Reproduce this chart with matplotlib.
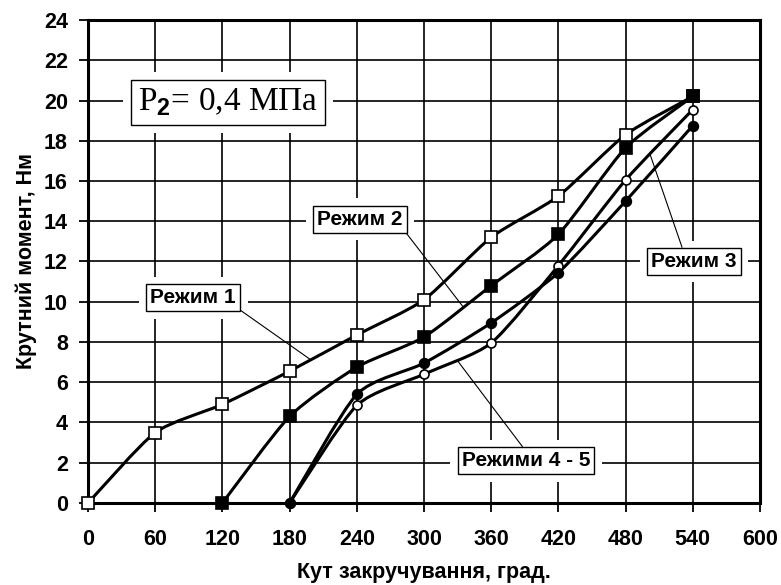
import numpy as np
import matplotlib
matplotlib.use('Agg')
import matplotlib.pyplot as plt
from matplotlib.path import Path
from matplotlib.patches import PathPatch

# angle of twist, degrees
angle_1 = [0, 60, 120, 180, 240, 300, 360, 420, 480, 540]
torque_1 = [0, 3.5, 4.9, 6.55, 8.35, 10.1, 13.2, 15.25, 18.3, 20.2]

angle_2 = [120, 180, 240, 300, 360, 420, 480, 540]
torque_2 = [0, 4.3, 6.75, 8.25, 10.8, 13.35, 17.65, 20.2]

angle_3 = [180, 240, 300, 360, 420, 480, 540]
torque_3 = [0, 4.85, 6.4, 7.95, 11.8, 16.05, 19.55]

angle_45 = [180, 240, 300, 360, 420, 480, 540]
torque_45 = [0, 5.4, 6.95, 8.95, 11.45, 15.0, 18.75]

x_ticks = [0, 60, 120, 180, 240, 300, 360, 420, 480, 540, 600]
y_ticks = [0, 2, 4, 6, 8, 10, 12, 14, 16, 18, 20, 22, 24]

# label text, box centre, end of leader line on the curve
mode_labels = ['Режим 1', 'Режим 2', 'Режим 3', 'Режими 4 - 5']
label_xy = [(94, 10.2), (243, 14.1), (541, 12.0), (391, 2.1)]
leader_xy = [(198, 7.15), (335, 9.74), (502, 17.3), (329.5, 7.1)]
leader_rel = [(1.0, 0.0), (1.0, 0.0), (0.38, 1.0), (0.5, 1.0)]

plt.rcParams['mathtext.fontset'] = 'custom'
plt.rcParams['mathtext.rm'] = 'Liberation Serif'
plt.rcParams['mathtext.bf'] = 'Liberation Sans:bold'

tick_font = {'family': 'Liberation Sans', 'weight': 'bold', 'size': 15.5}


def smooth_path(xs, ys, k=9.0):
    # excel-like smoothed line through the points (catmull-rom -> bezier)
    pts = np.column_stack([xs, ys]).astype(float)
    n = len(pts)
    verts = [pts[0]]
    codes = [Path.MOVETO]
    for i in range(n - 1):
        p0 = pts[i - 1] if i > 0 else pts[i]
        p1 = pts[i]
        p2 = pts[i + 1]
        p3 = pts[i + 2] if i + 2 < n else pts[i + 1]
        verts += [p1 + (p2 - p0) / k, p2 - (p3 - p1) / k, p2]
        codes += [Path.CURVE4] * 3
    return Path(verts, codes)


fig = plt.figure(figsize=(7.81, 5.85), dpi=100)
ax = fig.add_axes([0.1127, 0.1402, 0.8604, 0.8256])

series = [
    (angle_1, torque_1, dict(marker='s', ms=8.5, mfc='white')),
    (angle_2, torque_2, dict(marker='s', ms=8.5, mfc='black')),
    (angle_3, torque_3, dict(marker='o', ms=6.5, mfc='white')),
    (angle_45, torque_45, dict(marker='o', ms=7.0, mfc='black')),
]
for xs, ys, mk in series:
    ax.add_patch(PathPatch(smooth_path(xs, ys), fill=False, ec='black',
                           lw=2.2, zorder=4, clip_on=False))
    ax.plot(xs, ys, ls='none', mec='black', mew=1.2, zorder=5,
            clip_on=False, **mk)

ax.set_xlim(0, 600)
ax.set_ylim(0, 24)
ax.set_xticks(x_ticks)
ax.set_yticks(y_ticks)
ax.set_xticklabels([str(v) for v in x_ticks], fontdict=tick_font)
ax.set_yticklabels([str(v) for v in y_ticks], fontdict=tick_font)
ax.tick_params(direction='out', length=6.5, width=1.3, color='black')
ax.tick_params(axis='x', pad=12)
ax.tick_params(axis='y', pad=8)
ax.grid(True, color='black', lw=1.2)
ax.set_axisbelow(True)
for sp in ax.spines.values():
    sp.set_linewidth(2.2)

ax.set_xlabel('Кут закручування, град.', fontdict=tick_font, labelpad=9)
ax.set_ylabel('Крутний момент, Нм', fontdict=tick_font, labelpad=5)

# pressure box
ax.text(125, 19.9, r'P$_{\mathbf{2}}$= 0,4 МПа', color='none', fontsize=24,
        family='Liberation Serif', ha='center', va='center', zorder=2,
        bbox=dict(boxstyle='square,pad=0.45', fc='white', ec='none'))
ax.text(125, 19.9, r'P$_{\mathbf{2}}$= 0,4 МПа', fontsize=24,
        family='Liberation Serif', ha='center', va='center', zorder=3,
        bbox=dict(boxstyle='square,pad=0.2', fc='white', ec='black', lw=1.0))

for txt, xy, end, rel in zip(mode_labels, label_xy, leader_xy, leader_rel):
    ax.text(xy[0], xy[1], txt, color='none', fontsize=15, weight='bold',
            family='Liberation Sans', ha='center', va='center', zorder=2,
            bbox=dict(boxstyle='square,pad=0.55', fc='white', ec='none'))
    ax.annotate(txt, xy=end, xytext=xy, ha='center', va='center',
                fontsize=15, weight='bold', family='Liberation Sans',
                zorder=3,
                bbox=dict(boxstyle='square,pad=0.2', fc='white', ec='black',
                          lw=1.0),
                arrowprops=dict(arrowstyle='-', color='black', lw=0.8,
                                relpos=rel, shrinkA=0, shrinkB=0))

fig.savefig('out.png', dpi=100)
